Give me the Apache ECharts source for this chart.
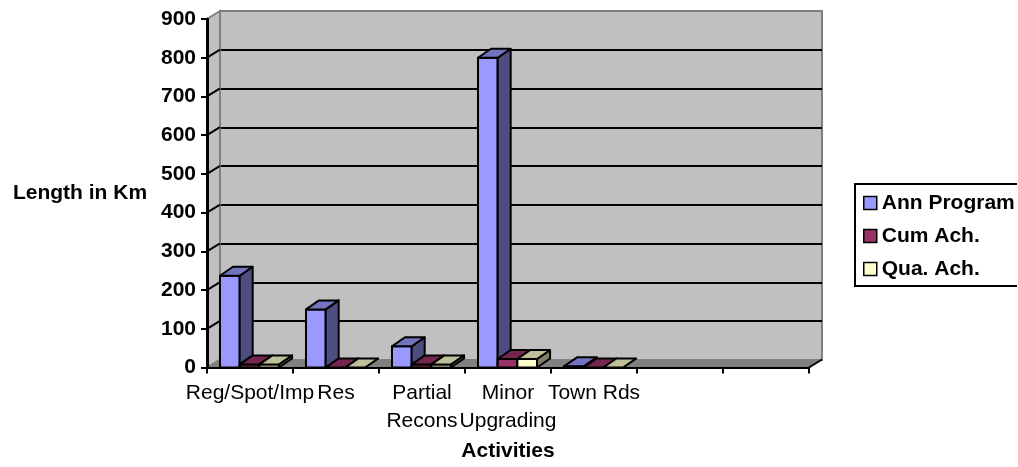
<!DOCTYPE html>
<html>
<head>
<meta charset="utf-8">
<script src="https://cdn.jsdelivr.net/npm/echarts@6/dist/echarts.min.js"></script>
<style>
  html, body { margin: 0; padding: 0; background: #ffffff; overflow: hidden; }
  #chart { width: 1018px; height: 467px; }
</style>
</head>
<body>
<div id="chart"></div>
<script>
// Length of road works per activity (km)
const categories = ['Reg/Spot/Imp', 'Res', 'Partial\nRecons', 'Minor\nUpgrading', 'Town Rds', '', ''];
const annProgram = [237, 150, 55, 800, 3, null, null];
const cumAch     = [8, 0, 8, 22, 0, null, null];
const quaAch     = [8, 0, 8, 22, 0, null, null];
const lengthTicks = [0, 100, 200, 300, 400, 500, 600, 700, 800, 900];

const FONT = "'Liberation Sans', Arial, sans-serif";
const yMin = lengthTicks[0];
const yMax = lengthTicks[lengthTicks.length - 1];
const yStep = lengthTicks[1] - lengthTicks[0];

// pseudo-3D projection offsets (pixels)
const WALL_DEPTH = [13, -8];
const BAR_DEPTH = [13, -9];
const CLUSTER_OFFSET = 0.151;   // fraction of band before first bar
const BAR_RATIO = 0.229;        // bar width as fraction of band

const seriesDefs = [
  { name: 'Ann Program', values: annProgram, front: '#9999FF', top: '#7373BF', side: '#4D4D80' },
  { name: 'Cum Ach.',    values: cumAch,     front: '#993366', top: '#732650', side: '#4D1A33' },
  { name: 'Qua. Ach.',   values: quaAch,     front: '#FFFFCC', top: '#BFBF99', side: '#808066' }
];

function makeBarRenderer(slot, def) {
  return function (params, api) {
    const cat = api.value(0);
    const val = api.value(1);
    const band = api.size([1, 0])[0];
    const base = api.coord([cat, 0]);
    const top = api.coord([cat, val]);
    const x0 = base[0] - band / 2 + band * CLUSTER_OFFSET + slot * band * BAR_RATIO;
    const x1 = x0 + band * BAR_RATIO;
    const yb = base[1], yt = top[1];
    const dx = BAR_DEPTH[0], dy = BAR_DEPTH[1];
    const stroke = { stroke: '#000', lineWidth: 2, lineJoin: 'round' };
    return {
      type: 'group',
      children: [
        { type: 'polygon', shape: { points: [[x0, yt], [x1, yt], [x1, yb], [x0, yb]] },
          style: Object.assign({ fill: def.front }, stroke) },
        { type: 'polygon', shape: { points: [[x1, yt], [x1 + dx, yt + dy], [x1 + dx, yb + dy], [x1, yb]] },
          style: Object.assign({ fill: def.side }, stroke) },
        { type: 'polygon', shape: { points: [[x0, yt], [x1, yt], [x1 + dx, yt + dy], [x0 + dx, yt + dy]] },
          style: Object.assign({ fill: def.top }, stroke) }
      ]
    };
  };
}

// side wall, floor and the side-wall gridlines
function renderWalls(params, api) {
  const band = api.size([1, 0])[0];
  const n = categories.length;
  const left = api.coord([0, yMin])[0] - band / 2;
  const right = api.coord([n - 1, yMin])[0] + band / 2;
  const yBase = api.coord([0, yMin])[1];
  const yTop = api.coord([0, yMax])[1];
  const dx = WALL_DEPTH[0], dy = WALL_DEPTH[1];
  const children = [
    { type: 'polygon',
      shape: { points: [[left, yTop], [left + dx, yTop + dy], [left + dx, yBase + dy], [left, yBase]] },
      style: { fill: '#C0C0C0', stroke: '#808080', lineWidth: 2 } },
    { type: 'polygon',
      shape: { points: [[left, yBase], [right, yBase], [right + dx, yBase + dy], [left + dx, yBase + dy]] },
      style: { fill: '#808080' } },
    { type: 'line',
      shape: { x1: right, y1: yBase, x2: right + dx, y2: yBase + dy },
      style: { stroke: '#000', lineWidth: 2 } }
  ];
  lengthTicks.slice(1, -1).forEach(function (v) {
    const y = api.coord([0, v])[1];
    children.push({ type: 'line',
      shape: { x1: left, y1: y, x2: left + dx, y2: y + dy },
      style: { stroke: '#000', lineWidth: 2 } });
  });
  return { type: 'group', children: children };
}

const chart = echarts.init(document.getElementById('chart'), null, { renderer: 'canvas' });

const series = [{
  type: 'custom',
  name: 'walls',
  coordinateSystem: 'cartesian2d',
  xAxisIndex: 0, yAxisIndex: 0,
  z: 1,
  silent: true,
  renderItem: renderWalls,
  data: [[0, 0]]
}];

seriesDefs.forEach(function (def, slot) {
  series.push({
    type: 'custom',
    name: def.name,
    coordinateSystem: 'cartesian2d',
    xAxisIndex: 0, yAxisIndex: 0,
    z: 5,
    itemStyle: { color: def.front, borderColor: '#000', borderWidth: 1.5 },
    renderItem: makeBarRenderer(slot, def),
    encode: { x: 0, y: 1 },
    data: def.values.map(function (v, i) { return [i, v]; }).filter(function (d) { return d[1] !== null; })
  });
});

chart.setOption({
  animation: false,
  backgroundColor: '#ffffff',
  textStyle: { fontFamily: FONT },
  grid: [
    // front plane (axes)
    { left: 207, top: 19, width: 602, height: 349, z: 2 },
    // back wall
    { left: 207 + WALL_DEPTH[0], top: 19 + WALL_DEPTH[1], width: 602, height: 349, z: 0,
      show: true, backgroundColor: '#C0C0C0', borderColor: '#808080', borderWidth: 2 }
  ],
  xAxis: [
    { type: 'category', gridIndex: 0, data: categories, boundaryGap: true, z: 10,
      name: 'Activities', nameLocation: 'middle', nameGap: 84,
      nameTextStyle: { fontFamily: FONT, fontSize: 21, fontWeight: 'bold', color: '#000',
                       align: 'center', verticalAlign: 'middle' },
      axisLine: { show: true, lineStyle: { color: '#000', width: 2 } },
      axisTick: { show: true, interval: 0, length: 6, lineStyle: { color: '#000', width: 2 } },
      axisLabel: { interval: 0, margin: 12, fontFamily: FONT, fontSize: 21, color: '#000', lineHeight: 28 },
      splitLine: { show: false } },
    { type: 'category', gridIndex: 1, data: categories, boundaryGap: true, z: 0,
      axisLine: { show: false }, axisTick: { show: false }, axisLabel: { show: false },
      splitLine: { show: false } }
  ],
  yAxis: [
    { type: 'value', gridIndex: 0, min: yMin, max: yMax, interval: yStep, z: 10,
      name: 'Length in Km', nameLocation: 'middle', nameGap: 127, nameRotate: 0,
      nameTextStyle: { fontFamily: FONT, fontSize: 21, fontWeight: 'bold', color: '#000',
                       align: 'center', verticalAlign: 'middle' },
      axisLine: { show: true, lineStyle: { color: '#000', width: 3 } },
      axisTick: { show: true, length: 6, lineStyle: { color: '#000', width: 2 } },
      axisLabel: { margin: 11, fontFamily: FONT, fontSize: 21, fontWeight: 'bold', color: '#000' },
      splitLine: { show: false } },
    { type: 'value', gridIndex: 1, min: yMin, max: yMax, interval: yStep, z: 0,
      axisLine: { show: false }, axisTick: { show: false }, axisLabel: { show: false },
      splitLine: { show: true, lineStyle: {
        width: 2,
        color: ['#808080', '#000', '#000', '#000', '#000', '#000', '#000', '#000', '#000', '#808080'] } } }
  ],
  // legend frame: open on the right, where it meets the canvas edge
  graphic: {
    elements: [{
      type: 'polyline', z: 3, silent: true,
      shape: { points: [[1017, 184], [855, 184], [855, 286], [1017, 286]] },
      style: { fill: null, stroke: '#000', lineWidth: 2 }
    }]
  },
  legend: {
    show: true,
    orient: 'vertical',
    left: 855, top: 184,
    padding: [8.5, 0, 6.5, 8],
    itemGap: 12,
    itemWidth: 13, itemHeight: 13,
    icon: 'rect',
    z: 10,
    selectedMode: false,
    backgroundColor: 'transparent',
    borderColor: 'transparent',
    borderWidth: 0,
    itemStyle: { borderColor: '#000', borderWidth: 1.5 },
    textStyle: { fontFamily: FONT, fontSize: 21, fontWeight: 'bold', color: '#000', lineHeight: 21 },
    data: seriesDefs.map(function (d) { return d.name; })
  },
  series: series
});
</script>
</body>
</html>
